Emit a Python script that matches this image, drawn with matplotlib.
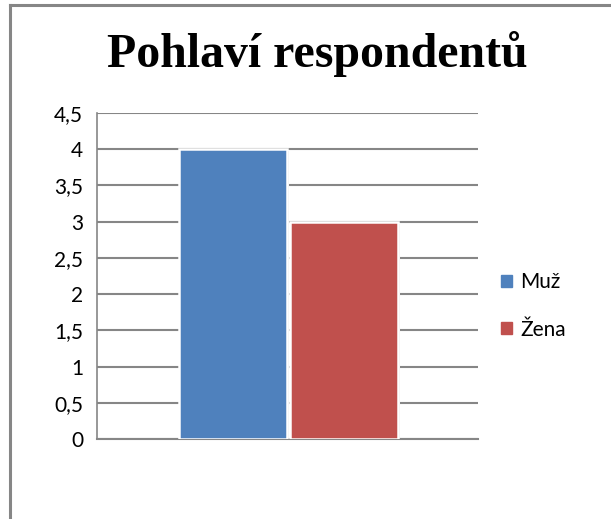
import matplotlib
matplotlib.use("Agg")
import matplotlib.pyplot as plt
from matplotlib.patches import Rectangle
from matplotlib.lines import Line2D

title = "Pohlaví respondentů"
categories = ["Muž", "Žena"]
values = [4, 3]
colors = ["#4F81BD", "#C0504D"]
yticks = [0, 0.5, 1, 1.5, 2, 2.5, 3, 3.5, 4, 4.5]
ytick_labels = ["0", "0,5", "1", "1,5", "2", "2,5", "3", "3,5", "4", "4,5"]

W, H, DPI = 611, 519, 100
fig = plt.figure(figsize=(W / DPI, H / DPI), dpi=DPI)
fig.patch.set_facecolor("white")

# figure border (left and top visible)
fig.add_artist(Line2D([10 / W, 10 / W], [0, 1 - 5 / H], transform=fig.transFigure,
                      color="#868686", lw=2.2))
fig.add_artist(Line2D([10 / W, 1], [1 - 5 / H, 1 - 5 / H], transform=fig.transFigure,
                      color="#868686", lw=2.2))

left, right, top, bottom = 97, 478, 113, 439
ax = fig.add_axes([left / W, 1 - bottom / H, (right - left) / W, (bottom - top) / H])
ax.set_xlim(0, 1)
ax.set_ylim(0, 4.5)

bw = 0.283
xs = [0.5 - bw / 2 - 0.002, 0.5 + bw / 2 + 0.006]
for x, v, c in zip(xs, values, colors):
    # subtle shadow
    ax.bar(x + 0.004, v, width=bw + 0.006, bottom=-0.03, color="#d8d8d8", zorder=2, linewidth=0)
    ax.bar(x, v, width=bw, color=c, edgecolor="white", linewidth=1.8, zorder=3)

ax.set_yticks(yticks)
ax.set_yticklabels(ytick_labels)
ax.set_xticks([])
ax.yaxis.grid(True, color="#868686", linewidth=1.5, zorder=1)
ax.set_axisbelow(True)
for s in ["top", "right"]:
    ax.spines[s].set_visible(False)
ax.spines["left"].set_color("#868686")
ax.spines["left"].set_linewidth(1.2)
ax.spines["bottom"].set_color("#868686")
ax.spines["bottom"].set_linewidth(1.5)
ax.tick_params(axis="y", length=0, pad=10, labelsize=15)
for lbl in ax.get_yticklabels():
    lbl.set_fontfamily("Lato")

fig.text(317 / W, 1 - 54 / H, title, ha="center", va="center",
         fontfamily="Liberation Serif", fontweight="bold", fontsize=34.5)

handles = [Rectangle((0, 0), 1, 1, color=c) for c in colors]
leg = fig.legend(handles, categories, loc="center left", bbox_to_anchor=(482 / W, 1 - 306 / H),
                 frameon=False, prop={"family": "Lato", "size": 15},
                 handlelength=0.55, handleheight=0.55, handletextpad=0.4, labelspacing=1.3)

fig.savefig("out.png", dpi=DPI)
